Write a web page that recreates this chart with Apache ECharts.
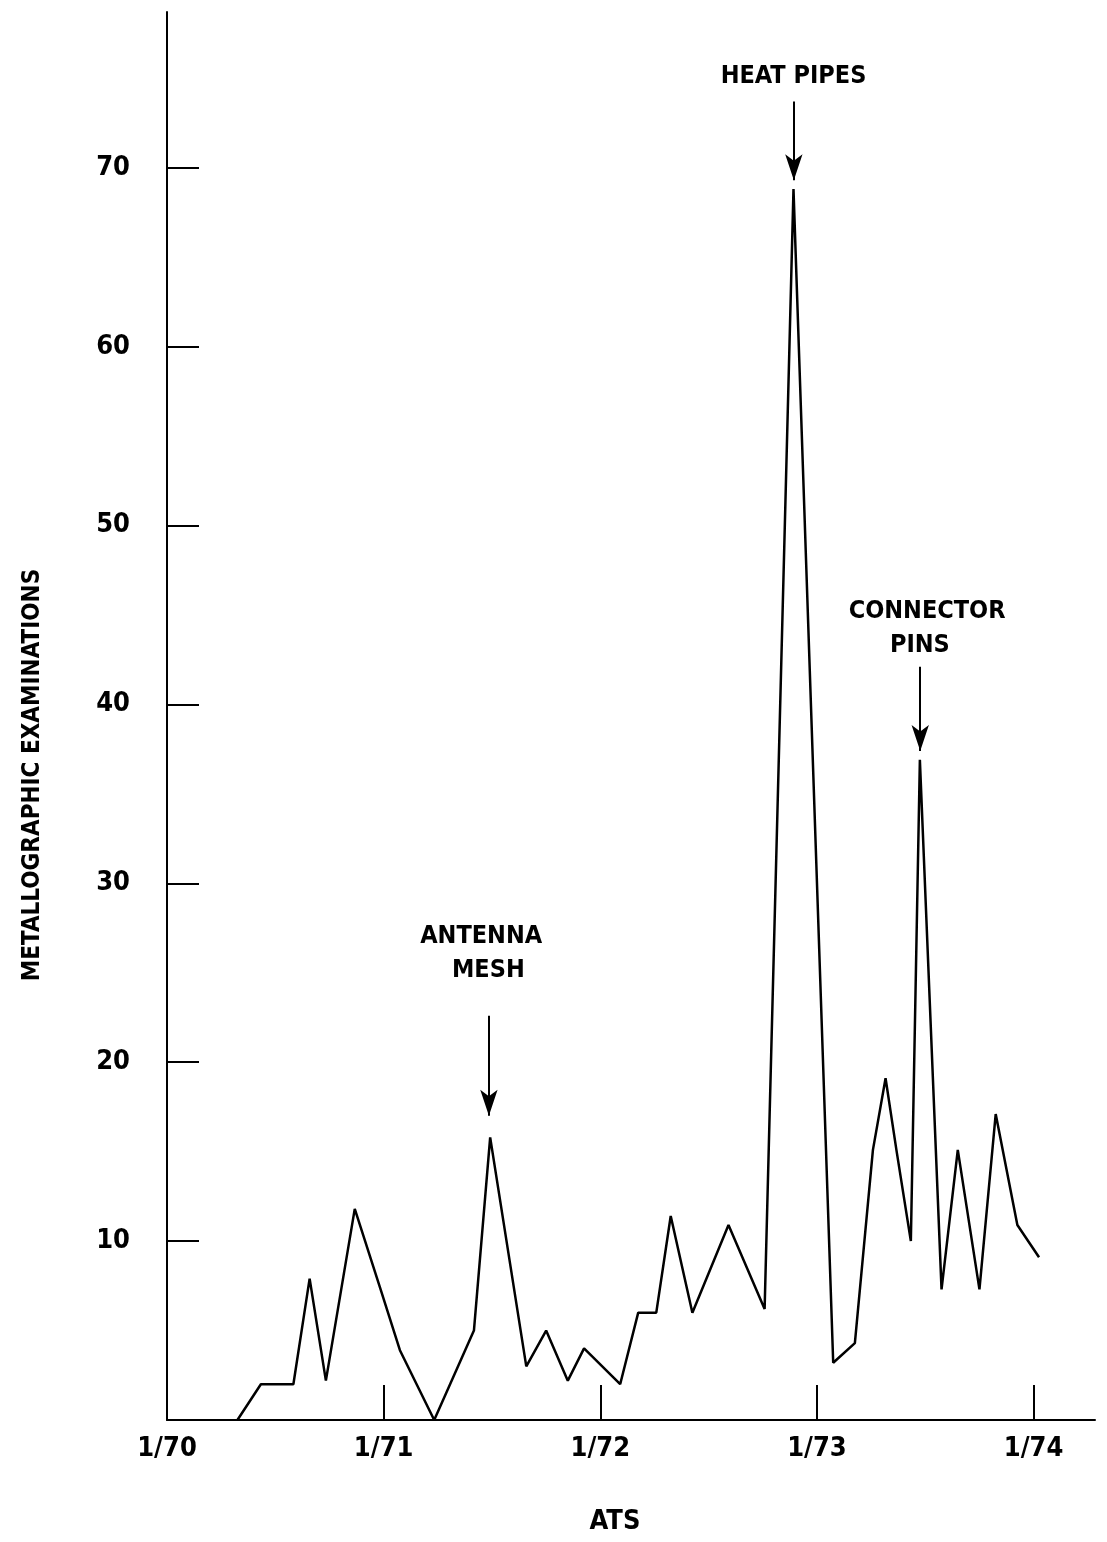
<!DOCTYPE html>
<html>
<head>
<meta charset="utf-8">
<script src="https://cdn.jsdelivr.net/npm/echarts@6/dist/echarts.min.js"></script>
<style>
html,body{margin:0;padding:0;background:#fff;}
#chart{width:1107px;height:1542px;}
</style>
</head>
<body>
<div id="chart"></div>
<script>
// months elapsed since 1/70
const months = [3.9, 5.2, 7.0, 7.9, 8.8, 10.4, 11.8, 12.9, 14.8, 17.0, 17.9, 19.9, 21.0, 22.2, 23.1, 25.1, 26.1, 27.1, 27.9, 29.1, 31.1, 33.1, 34.7, 36.9, 38.1, 39.1, 39.8, 40.4, 41.2, 41.7, 42.9, 43.8, 45.0, 45.9, 47.1, 48.3];
const values = [0, 2, 2, 7.9, 2.2, 11.8, 7.4, 3.9, 0, 5, 15.8, 3, 5, 2.2, 4, 2, 6, 6, 11.4, 6, 10.9, 6.2, 68.8, 3.2, 4.3, 15.1, 19.1, 15.1, 10, 36.9, 7.3, 15.1, 7.3, 17.1, 10.9, 9.1];
const xTickMonths = [0, 12, 24, 36, 48];
const xTickLabels = ['1/70', '1/71', '1/72', '1/73', '1/74'];
const yTicks = [10, 20, 30, 40, 50, 60, 70];
const xTitle = 'ATS';
const yTitle = 'METALLOGRAPHIC EXAMINATIONS';
const annotationTexts = [
  {text: 'HEAT PIPES', x: 34.7, y: 75.1},
  {text: 'CONNECTOR', x: 42.1, y: 45.2},
  {text: 'PINS', x: 41.7, y: 43.3},
  {text: 'ANTENNA', x: 17.4, y: 27.0},
  {text: 'MESH', x: 17.8, y: 25.1}
];
const annotationArrows = [
  {x: 34.72, from: 73.7, to: 69.3},
  {x: 41.72, from: 42.1, to: 37.4},
  {x: 17.83, from: 22.6, to: 17.0}
];

const FONT = '"DejaVu Sans Condensed", "Liberation Sans Narrow", sans-serif';
const chart = echarts.init(document.getElementById('chart'));
chart.setOption({
  animation: false,
  backgroundColor: '#fff',
  grid: {left: 167, right: 12, top: 12, bottom: 122, containLabel: false},
  xAxis: {
    type: 'value', min: 0, max: 51.4,
    axisLine: {lineStyle: {color: '#000', width: 2}},
    axisTick: {show: true, inside: true, length: 35, lineStyle: {color: '#000', width: 2}, customValues: xTickMonths.slice(1)},
    axisLabel: {
      customValues: xTickMonths,
      formatter: v => { const i = xTickMonths.indexOf(v); return i >= 0 ? xTickLabels[i] : ''; },
      color: '#000', fontFamily: FONT, fontWeight: 'bold', fontSize: 27, margin: 15
    },
    splitLine: {show: false},
    name: xTitle, nameLocation: 'middle', nameGap: 88,
    nameTextStyle: {color: '#000', fontFamily: FONT, fontWeight: 'bold', fontSize: 27, padding: [0, 32, 0, 0]}
  },
  yAxis: {
    type: 'value', min: 0, max: 78.7,
    axisLine: {show: true, lineStyle: {color: '#000', width: 2}},
    axisTick: {show: true, inside: true, length: 32, lineStyle: {color: '#000', width: 2}, customValues: yTicks},
    axisLabel: {customValues: yTicks, color: '#000', fontFamily: FONT, fontWeight: 'bold', fontSize: 27, margin: 37},
    splitLine: {show: false},
    name: yTitle, nameLocation: 'middle', nameGap: 122, nameRotate: 90,
    nameTextStyle: {color: '#000', fontFamily: FONT, fontWeight: 'bold', fontSize: 24, padding: [0, 118, 0, 0]}
  },
  series: [{
    type: 'line',
    data: months.map((m, i) => [m, values[i]]),
    showSymbol: false,
    symbol: 'none',
    lineStyle: {color: '#000', width: 2.5},
    markLine: {
      silent: true,
      symbol: ['none', 'arrow'],
      symbolSize: [13, 26],
      label: {show: false},
      lineStyle: {color: '#000', width: 2, type: 'solid'},
      data: annotationArrows.map(a => [{coord: [a.x, a.from]}, {coord: [a.x, a.to]}])
    },
    markPoint: {
      silent: true,
      symbol: 'circle', symbolSize: 1,
      itemStyle: {color: 'rgba(0,0,0,0)'},
      label: {show: true, position: 'inside', color: '#000', fontFamily: FONT, fontWeight: 'bold', fontSize: 25},
      data: annotationTexts.map(t => ({coord: [t.x, t.y], value: t.text, label: {formatter: t.text}}))
    }
  }]
});
</script>
</body>
</html>
